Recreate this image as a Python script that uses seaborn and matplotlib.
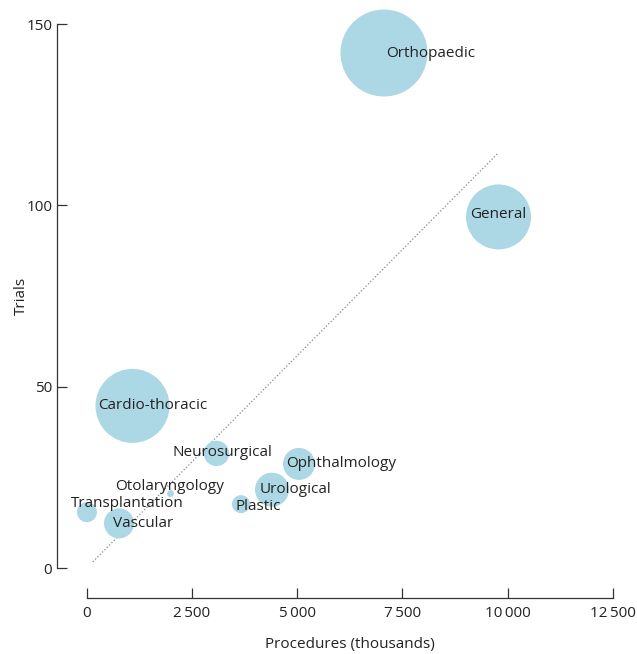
import numpy as np
import pandas as pd
import matplotlib
matplotlib.use("Agg")
import matplotlib.pyplot as plt
import seaborn as sns

# values
specialty = ['Orthopaedic', 'General', 'Cardio-thoracic', 'Neurosurgical', 'Ophthalmology',
             'Urological', 'Plastic', 'Otolaryngology', 'Transplantation', 'Vascular']
procedures = [7063, 9782, 1092, 3086, 5045, 4404, 3668, 1994, 10, 772]
trials = [142.0, 96.8, 44.7, 31.6, 28.7, 21.6, 17.6, 20.5, 15.4, 12.3]
bubble_size = [1892, 1056, 1369, 161, 256, 289, 81, 12, 100, 225]

trend_x = [150, 9770]
trend_y = [1.7, 114.4]

xticks = [0, 2500, 5000, 7500, 10000, 12500]
xtick_labels = ['0', '2\u2009500', '5\u2009000', '7\u2009500', '10\u2009000', '12\u2009500']
yticks = [0, 50, 100, 150]
ytick_labels = ['0', '50', '100', '150']

# label placement (offset in points, alignment)
label_pos = {
    'Orthopaedic': (1.5, 0, 'left'),
    'General': (0, 1.5, 'center'),
    'Cardio-thoracic': (-25, 0, 'left'),
    'Neurosurgical': (4.3, 1, 'center'),
    'Ophthalmology': (-9.4, 0, 'left'),
    'Urological': (-8.6, 0, 'left'),
    'Plastic': (-3.6, -1.4, 'left'),
    'Otolaryngology': (-1, 5.4, 'center'),
    'Transplantation': (28.8, 6.5, 'center'),
    'Vascular': (-4.3, 0, 'left'),
}

df = pd.DataFrame({'Specialty': specialty, 'Procedures': procedures,
                   'Trials': trials, 'Size': bubble_size})

sns.set_style('white')
plt.rcParams['font.family'] = ['Open Sans', 'DejaVu Sans']
txt = '#222222'
fs = 11

fig = plt.figure(figsize=(6.37, 6.54), dpi=100)
ax = fig.add_axes([86.5 / 637, 86 / 654, 526.5 / 637, 544 / 654])

ax.plot(trend_x, trend_y, linestyle=':', color='#888888', linewidth=0.9, zorder=1)

# area scale: radius in px -> marker area in points^2
sns.scatterplot(data=df, x='Procedures', y='Trials', size='Size',
                sizes=(0, 2.0736 * 2000), size_norm=(0, 2000),
                color='#acd7e4', linewidth=0, alpha=1, legend=False,
                ax=ax, zorder=2, clip_on=False)

for name, x, y in zip(specialty, procedures, trials):
    dx, dy, ha = label_pos[name]
    ax.annotate(name, (x, y), xytext=(dx, dy), textcoords='offset points',
                ha=ha, va='center', fontsize=fs, color=txt, zorder=3)

ax.set_xlim(0, 12500)
ax.set_ylim(0, 150)
ax.set_xticks(xticks)
ax.set_xticklabels(xtick_labels)
ax.set_yticks(yticks)
ax.set_yticklabels(ytick_labels)
ax.tick_params(bottom=True, left=True, direction='in', length=7.2, width=0.9,
               color='#333333', labelsize=fs, labelcolor=txt)
ax.tick_params(axis='y', pad=3)
ax.tick_params(axis='x', pad=6)

for s in ['top', 'right']:
    ax.spines[s].set_visible(False)
for s in ['left', 'bottom']:
    ax.spines[s].set_position(('outward', 21.6))
    ax.spines[s].set_color('#333333')
    ax.spines[s].set_linewidth(0.9)

ax.set_xlabel('Procedures (thousands)', fontsize=fs, color=txt, labelpad=11)
ax.set_ylabel('Trials', fontsize=fs, color=txt, labelpad=-2)

fig.savefig('out.png', dpi=100)
